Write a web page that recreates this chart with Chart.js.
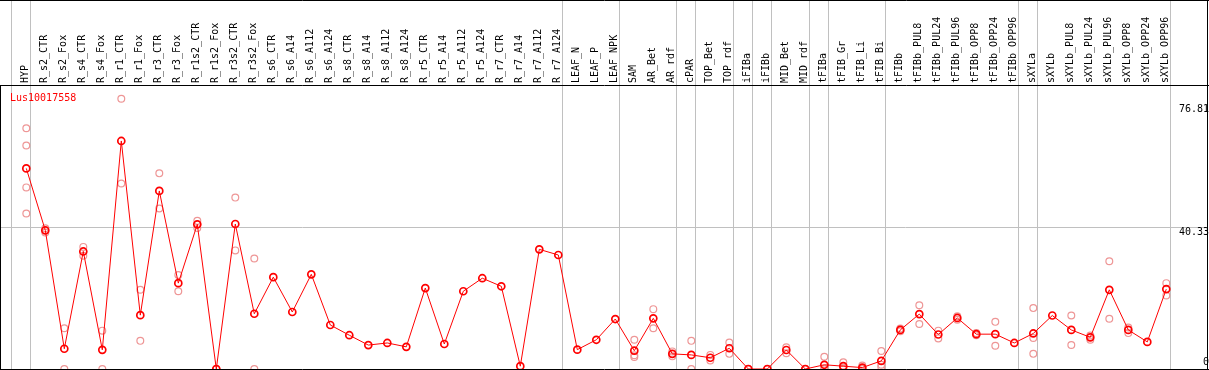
<!DOCTYPE html>
<html>
<head>
<meta charset="utf-8">
<script src="https://cdn.jsdelivr.net/npm/chart.js@4/dist/chart.umd.min.js"></script>
<style>
html,body{margin:0;padding:0;background:#fff;overflow:hidden}
#wrap{width:1209px;height:370px;position:relative}
</style>
</head>
<body>
<div id="wrap"><canvas id="c" width="1209" height="370"></canvas></div>
<script>
const categories = ['HYP','R_s2_CTR','R_s2_Fox','R_s4_CTR','R_s4_Fox','R_r1_CTR','R_r1_Fox','R_r3_CTR','R_r3_Fox',
  'R_r1s2_CTR','R_r1s2_Fox','R_r3s2_CTR','R_r3s2_Fox','R_s6_CTR','R_s6_A14','R_s6_A112','R_s6_A124',
  'R_s8_CTR','R_s8_A14','R_s8_A112','R_s8_A124','R_r5_CTR','R_r5_A14','R_r5_A112','R_r5_A124',
  'R_r7_CTR','R_r7_A14','R_r7_A112','R_r7_A124','LEAF_N','LEAF_P','LEAF_NPK','SAM','AR_Bet','AR_rdf',
  'cPAR','TOP_Bet','TOP_rdf','iFIBa','iFIBb','MID_Bet','MID_rdf','tFIBa','tFIB_Gr','tFIB_Li','tFIB_Bi',
  'tFIBb','tFIBb_PUL8','tFIBb_PUL24','tFIBb_PUL96','tFIBb_OPP8','tFIBb_OPP24','tFIBb_OPP96',
  'sXYLa','sXYLb','sXYLb_PUL8','sXYLb_PUL24','sXYLb_PUL96','sXYLb_OPP8','sXYLb_OPP24','sXYLb_OPP96'];

const meanValues = [57.0,39.4,5.75,33.4,5.45,64.8,15.3,50.6,24.4,
  41.1,0,41.2,15.7,26.1,16.2,26.9,12.5,
  9.6,6.8,7.4,6.3,23.0,7.1,22.1,25.8,
  23.5,0.8,34.0,32.4,5.5,8.3,14.2,5.2,14.4,4.3,
  4.0,3.2,5.9,0,0,5.4,0,1.2,0.8,0.4,2.3,
  11.1,15.6,9.8,14.5,9.9,9.9,7.4,
  10.1,15.2,11.1,9.0,22.5,11.1,7.7,22.7];

const rep1 = [68.4,40.0,11.6,34.7,10.9,76.81,22.5,55.6,26.7,
  42.1,0,48.7,31.4,null,null,null,null,
  null,null,null,null,null,null,null,null,
  null,null,null,null,null,null,null,8.3,17.0,5.0,
  8.0,4.0,7.5,0,0,6.2,0,3.5,1.9,1.0,5.1,
  11.5,18.1,10.9,15.0,10.2,13.4,null,
  17.3,null,15.2,9.5,30.6,11.8,null,24.4];

const rep2 = [63.5,38.8,0,32.2,0,52.7,8.0,45.6,22.1,
  40.1,0,33.7,0,null,null,null,null,
  null,null,null,null,null,null,null,null,
  null,null,null,null,null,null,null,3.9,11.6,3.6,
  0,2.4,4.3,0,0,4.5,0,0,0.4,0,0.6,
  10.7,12.8,8.7,14.0,9.6,6.6,null,
  8.8,null,6.8,8.3,14.3,10.2,null,20.9];

const rep3 = [51.6,null,null,null,null,null,null,null,null,
  null,null,null,null,null,null,null,null,
  null,null,null,null,null,null,null,null,
  null,null,null,null,null,null,null,3.4,null,null,
  null,null,null,null,null,null,null,0,0,0.2,1.2,
  null,null,null,null,null,null,null,
  4.3,null,null,null,null,null,null,null];

const rep4 = [44.2,null,null,null,null,null,null,null,null,
  null,null,null,null,null,null,null,null,
  null,null,null,null,null,null,null,null,
  null,null,null,null,null,null,null,null,null,null,
  null,null,null,null,null,null,null,null,null,null,null,
  null,null,null,null,null,null,null,
  null,null,null,null,null,null,null,null];

const yTickValues = [0, 40.33, 76.81];
const yTickLabels = { 0: ['0','',''], 40.33: ['40.33'], 76.81: ['', '76.81'] };
const groupEnds = ['HYP','R_r7_A124','LEAF_NPK','AR_rdf','cPAR','TOP_rdf','iFIBa','iFIBb',
  'MID_rdf','tFIBa','tFIB_Bi','tFIBb_OPP96','sXYLa','sXYLb_OPP96'];
const geneName = 'Lus10017558';

const FONT = { family: '"DejaVu Sans Mono", monospace', size: 10 };
const GRID_GREY = '#c0c0c0';

const toPoints = arr => categories.map((c, i) => ({ x: i, y: arr[i] })).filter(p => p.y !== null);

const repStyle = {
  showLine: false,
  pointStyle: 'circle',
  pointRadius: 3.4,
  pointBorderWidth: 1.2,
  pointBorderColor: 'rgb(238,150,150)',
  pointBackgroundColor: 'rgba(255,255,255,0)',
  borderColor: 'rgb(238,150,150)'
};

const framePlugin = {
  id: 'frame',
  beforeDatasetsDraw(chart) {
    const { ctx, scales: { x }, chartArea } = chart;
    ctx.save();
    ctx.strokeStyle = GRID_GREY;
    ctx.lineWidth = 1;
    const idx = [-1].concat(groupEnds.map(n => categories.indexOf(n)));
    idx.forEach(i => {
      const px = Math.floor(x.getPixelForValue(i) + 4.4) + 0.5;
      ctx.beginPath();
      ctx.moveTo(px, 0);
      ctx.lineTo(px, chartArea.bottom);
      ctx.stroke();
    });
    ctx.restore();
  },
  afterDraw(chart) {
    const { ctx, chartArea, width, height } = chart;
    ctx.save();
    ctx.strokeStyle = '#000';
    ctx.lineWidth = 1;
    ctx.beginPath();
    ctx.moveTo(0, 0.5); ctx.lineTo(width, 0.5);
    ctx.moveTo(0, chartArea.top + 0.5); ctx.lineTo(width, chartArea.top + 0.5);
    ctx.moveTo(0, chartArea.bottom + 0.5); ctx.lineTo(width, chartArea.bottom + 0.5);
    ctx.moveTo(chartArea.right + 0.5, 0); ctx.lineTo(chartArea.right + 0.5, height);
    ctx.moveTo(0.5, chartArea.top); ctx.lineTo(0.5, height);
    ctx.stroke();
    ctx.fillStyle = '#ff0000';
    ctx.font = '10px "DejaVu Sans Mono", monospace';
    ctx.textBaseline = 'alphabetic';
    ctx.textAlign = 'left';
    ctx.fillText(geneName, chartArea.left + 9, chartArea.top + 16);
    ctx.restore();
  }
};

new Chart(document.getElementById('c'), {
  type: 'line',
  data: {
    datasets: [
      {
        data: toPoints(meanValues),
        borderColor: '#ff0000',
        borderWidth: 1,
        tension: 0,
        pointStyle: 'circle',
        pointRadius: 3.5,
        pointBorderWidth: 1.7,
        pointBorderColor: '#ff0000',
        pointBackgroundColor: 'rgba(255,255,255,0)'
      },
      Object.assign({ data: toPoints(rep1) }, repStyle),
      Object.assign({ data: toPoints(rep2) }, repStyle),
      Object.assign({ data: toPoints(rep3) }, repStyle),
      Object.assign({ data: toPoints(rep4) }, repStyle)
    ]
  },
  options: {
    responsive: false,
    animation: false,
    devicePixelRatio: 1,
    layout: { autoPadding: false, padding: { left: 1, top: 0, right: 0, bottom: 1 } },
    plugins: { legend: { display: false }, tooltip: { enabled: false }, title: { display: false } },
    scales: {
      x: {
        type: 'linear',
        position: 'top',
        min: -1.3316,
        max: 62.142,
        afterBuildTicks: s => { s.ticks = categories.map((c, i) => ({ value: i })); },
        afterFit: s => { s.height = 85; s.paddingLeft = 0; s.paddingRight = 0; },
        ticks: {
          autoSkip: false,
          minRotation: 90,
          maxRotation: 90,
          padding: 2,
          labelOffset: 11,
          color: '#000',
          font: FONT,
          callback: v => categories[v]
        },
        grid: { display: false, drawTicks: false },
        border: { display: false }
      },
      y: {
        type: 'linear',
        position: 'right',
        min: 0,
        max: 80.7,
        afterBuildTicks: s => { s.ticks = yTickValues.map(v => ({ value: v })); },
        afterFit: s => { s.width = 2; s.paddingTop = 0; s.paddingBottom = 0; },
        ticks: {
          mirror: true,
          align: 'start',
          padding: 2,
          color: '#000',
          font: FONT,
          callback: v => yTickLabels[v]
        },
        grid: {
          drawTicks: false,
          lineWidth: 1,
          color: ctx => (ctx.tick && ctx.tick.value === 40.33) ? GRID_GREY : 'rgba(0,0,0,0)'
        },
        border: { display: false }
      }
    }
  },
  plugins: [framePlugin]
});
</script>
</body>
</html>
